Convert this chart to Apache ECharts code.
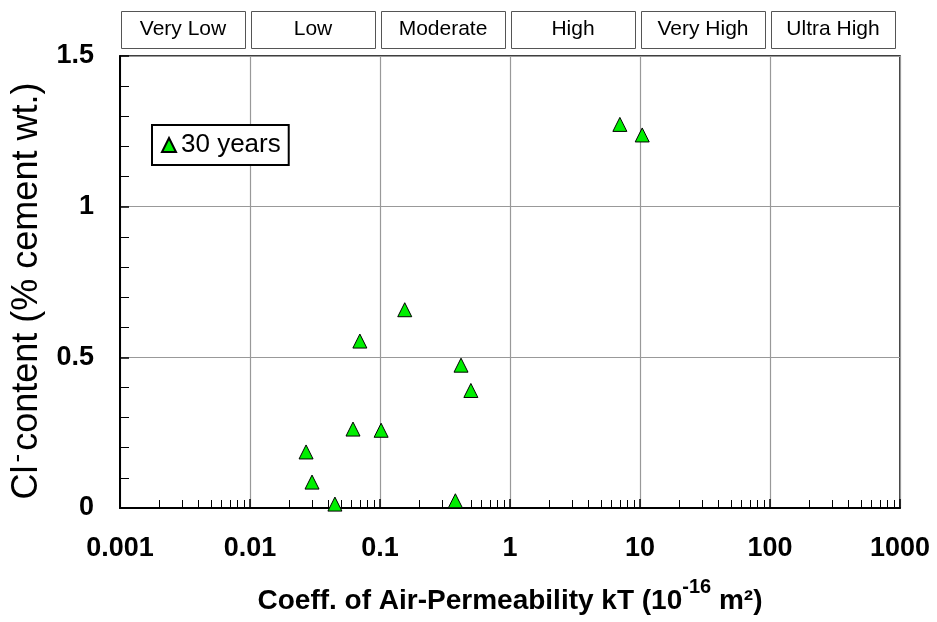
<!DOCTYPE html>
<html>
<head>
<meta charset="utf-8">
<script src="https://cdn.jsdelivr.net/npm/echarts@6/dist/echarts.min.js"></script>
<style>html,body{margin:0;padding:0;background:#fff}#c{width:937px;height:622px}</style>
</head>
<body>
<div id="c"></div>
<script>
// ---- data ----
const kT = [7.0, 10.4, 0.155, 0.070, 0.42, 0.50, 0.062, 0.102, 0.027, 0.030, 0.045, 0.38];
const clContent = [1.273, 1.238, 0.658, 0.554, 0.474, 0.39, 0.262, 0.258, 0.186, 0.086, 0.013, 0.024];
const seriesName = '30 years';
const classNames = ['Very Low', 'Low', 'Moderate', 'High', 'Very High', 'Ultra High'];
const classBounds = [0.001, 0.01, 0.1, 1, 10, 100, 1000];
const xTickLabels = ['0.001', '0.01', '0.1', '1', '10', '100', '1000'];
const yTickLabels = ['0', '0.5', '1', '1.5'];

// minor tick values 2..9 per decade
const minorVals = [];
for (let d = 0; d < classBounds.length - 1; d++) {
  for (let m = 2; m <= 9; m++) minorVals.push(classBounds[d] * m);
}

const chart = echarts.init(document.getElementById('c'), null, {renderer: 'canvas'});
const FONT = '"Liberation Sans", Arial, sans-serif';

chart.setOption({
  animation: false,
  backgroundColor: '#fff',
  textStyle: {fontFamily: FONT},
  grid: [
    {left: 120, right: 37, top: 56, bottom: 114, show: true, borderColor: '#000', borderWidth: 1.5,
     containLabel: false, outerBoundsMode: 'none'},
    {left: 120, right: 37, top: 11, height: 37, containLabel: false, outerBoundsMode: 'none'}
  ],
  legend: {
    data: [seriesName],
    left: 152, top: 125,
    icon: 'triangle',
    itemWidth: 14, itemHeight: 14, itemGap: 6,
    borderColor: '#000', borderWidth: 2,
    padding: [7, 8, 7, 9],
    backgroundColor: '#fff',
    textStyle: {fontSize: 26, color: '#000', fontFamily: FONT, padding: [0, 0, 0, 0]}
  },
  xAxis: [
    {
      type: 'log', logBase: 10, min: 0.001, max: 1000, gridIndex: 0,
      axisLine: {show: true, onZero: false, lineStyle: {color: '#000', width: 2}},
      axisTick: {show: true, inside: true, length: 9, lineStyle: {color: '#000', width: 1.5}},
      axisLabel: {
        color: '#000', fontSize: 27, fontWeight: 'bold', margin: 27, fontFamily: FONT,
        formatter: v => { const i = classBounds.findIndex(b => Math.abs(Math.log10(b) - Math.log10(v)) < 1e-6); return i >= 0 ? xTickLabels[i] : ''; }
      },
      splitLine: {show: true, lineStyle: {color: '#999', width: 1.2}},
      minorTick: {show: false},
      name: '{a|Coeff. of Air-Permeability kT (10}{s|-16}{a| m²)}',
      nameLocation: 'middle', nameGap: 69,
      nameTextStyle: {
        rich: {
          a: {fontSize: 28, fontWeight: 'bold', color: '#000', fontFamily: FONT},
          s: {fontSize: 20, fontWeight: 'bold', color: '#000', fontFamily: FONT, padding: [0, 0, 28, 0]}
        }
      }
    },
    {type: 'log', logBase: 10, min: 0.001, max: 1000, gridIndex: 1, show: false}
  ],
  yAxis: [
    {
      type: 'value', min: 0, max: 1.5, interval: 0.5, gridIndex: 0,
      axisLine: {show: true, lineStyle: {color: '#000', width: 2}},
      axisTick: {show: true, inside: true, length: 9, lineStyle: {color: '#000', width: 1.5}},
      minorTick: {show: true, splitNumber: 5, length: 9, lineStyle: {color: '#000', width: 1}},
      axisLabel: {
        color: '#000', fontSize: 27, fontWeight: 'bold', margin: 26, fontFamily: FONT,
        formatter: v => yTickLabels[Math.round(v / 0.5)]
      },
      splitLine: {show: true, lineStyle: {color: '#999', width: 1.2}},
      name: '{a|Cl}{s|-}{a|content (% cement wt.)}',
      nameLocation: 'middle', nameRotate: 90, nameGap: 67,
      nameTextStyle: {
        padding: [0, 18, 0, 0],
        rich: {
          a: {fontSize: 36, color: '#000', fontFamily: FONT},
          s: {fontSize: 26, color: '#000', fontFamily: FONT, padding: [0, 3, 20, 3]}
        }
      }
    },
    {type: 'value', min: 0, max: 1, gridIndex: 1, show: false}
  ],
  series: [
    {
      type: 'custom', xAxisIndex: 1, yAxisIndex: 1, silent: true,
      data: classNames.map((n, i) => [classBounds[i], classBounds[i + 1], n]),
      renderItem: (params, api) => {
        const cs = params.coordSys;
        const x0 = api.coord([api.value(0), 0.5])[0];
        const x1 = api.coord([api.value(1), 0.5])[0];
        const bx = x0 + 1, bw = x1 - x0 - 6;
        return {
          type: 'group',
          children: [
            {type: 'rect', shape: {x: bx + 0.5, y: cs.y + 0.5, width: bw, height: cs.height},
             style: {fill: '#fff', stroke: '#555', lineWidth: 1}},
            {type: 'text', style: {x: bx + bw / 2, y: cs.y + cs.height / 2, text: classNames[params.dataIndex],
              align: 'center', verticalAlign: 'middle', fontSize: 21, fill: '#000', fontFamily: FONT}}
          ]
        };
      }
    },
    {
      type: 'custom', xAxisIndex: 0, yAxisIndex: 0, silent: true, z: 1,
      data: minorVals.map(v => [v, 0]),
      renderItem: (params, api) => {
        const p = api.coord([api.value(0), 0]);
        return {type: 'line', shape: {x1: Math.round(p[0]) + 0.5, y1: p[1], x2: Math.round(p[0]) + 0.5, y2: p[1] - 8},
                style: {stroke: '#000', lineWidth: 1}};
      }
    },
    {
      name: seriesName, type: 'scatter', xAxisIndex: 0, yAxisIndex: 0, z: 5,
      symbol: 'triangle', symbolSize: 14,
      itemStyle: {color: '#00ee00', borderColor: '#000', borderWidth: 1, opacity: 1},
      data: kT.map((x, i) => [x, clContent[i]])
    }
  ]
});
</script>
</body>
</html>
